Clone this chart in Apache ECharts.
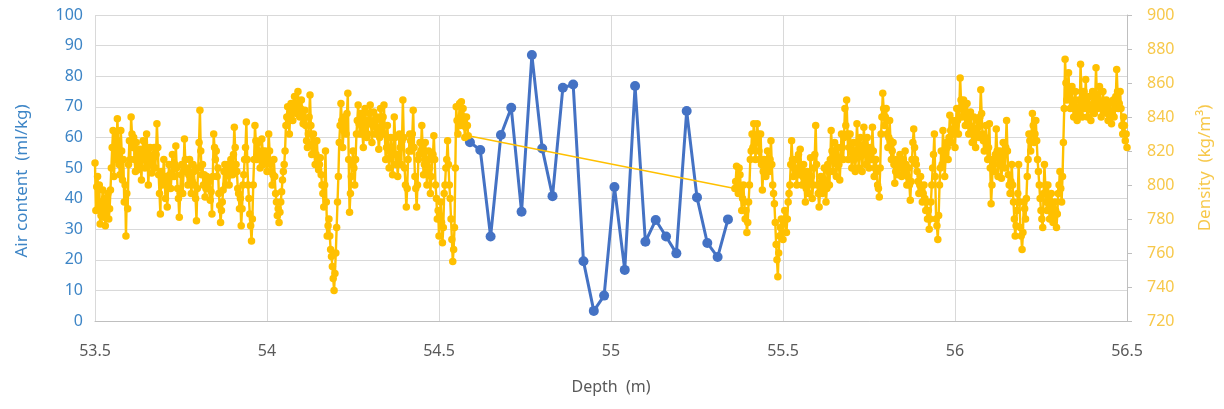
<!DOCTYPE html>
<html>
<head>
<meta charset="utf-8">
<script src="https://cdn.jsdelivr.net/npm/echarts@6/dist/echarts.min.js"></script>
<style>
  html, body { margin: 0; padding: 0; background: #fff; }
  #chart { width: 1224px; height: 409px; }
</style>
</head>
<body>
<div id="chart"></div>
<script>
// air content samples (bubble layer)
const airDepth = [54.59, 54.62, 54.65, 54.68, 54.71, 54.74, 54.77, 54.8, 54.83, 54.86, 54.89, 54.92, 54.95,
  54.98, 55.01, 55.04, 55.07, 55.1, 55.13, 55.16, 55.19, 55.22, 55.25, 55.28, 55.31, 55.34];
const airValue = [58.4, 55.9, 27.6, 60.8, 69.7, 35.7, 86.9, 56.4, 40.8, 76.2, 77.3, 19.5, 3.3,
  8.3, 43.8, 16.7, 76.8, 25.9, 33.0, 27.6, 22.1, 68.6, 40.4, 25.5, 20.9, 33.2];

// density profile above the bubble layer (5 mm samples)
const densDepthA = [
  53.5, 53.505, 53.51, 53.515, 53.52, 53.525, 53.53, 53.535, 53.54, 53.545,
  53.55, 53.555, 53.56, 53.565, 53.57, 53.575, 53.58, 53.585, 53.59, 53.595,
  53.6, 53.605, 53.61, 53.615, 53.62, 53.625, 53.63, 53.635, 53.64, 53.645,
  53.65, 53.655, 53.66, 53.665, 53.67, 53.675, 53.68, 53.685, 53.69, 53.695,
  53.7, 53.705, 53.71, 53.715, 53.72, 53.725, 53.73, 53.735, 53.74, 53.745,
  53.75, 53.755, 53.76, 53.765, 53.77, 53.775, 53.78, 53.785, 53.79, 53.795,
  53.8, 53.805, 53.81, 53.815, 53.82, 53.825, 53.83, 53.835, 53.84, 53.845,
  53.85, 53.855, 53.86, 53.865, 53.87, 53.875, 53.88, 53.885, 53.89, 53.895,
  53.9, 53.905, 53.91, 53.915, 53.92, 53.925, 53.93, 53.935, 53.94, 53.945,
  53.95, 53.955, 53.96, 53.965, 53.97, 53.975, 53.98, 53.985, 53.99, 53.995,
  54, 54.005, 54.01, 54.015, 54.02, 54.025, 54.03, 54.035, 54.04, 54.045,
  54.05, 54.055, 54.06, 54.065, 54.07, 54.075, 54.08, 54.085, 54.09, 54.095,
  54.1, 54.105, 54.11, 54.115, 54.12, 54.125, 54.13, 54.135, 54.14, 54.145,
  54.15, 54.155, 54.16, 54.165, 54.17, 54.175, 54.18, 54.185, 54.19, 54.195,
  54.2, 54.205, 54.21, 54.215, 54.22, 54.225, 54.23, 54.235, 54.24, 54.245,
  54.25, 54.255, 54.26, 54.265, 54.27, 54.275, 54.28, 54.285, 54.29, 54.295,
  54.3, 54.305, 54.31, 54.315, 54.32, 54.325, 54.33, 54.335, 54.34, 54.345,
  54.35, 54.355, 54.36, 54.365, 54.37, 54.375, 54.38, 54.385, 54.39, 54.395,
  54.4, 54.405, 54.41, 54.415, 54.42, 54.425, 54.43, 54.435, 54.44, 54.445,
  54.45, 54.455, 54.46, 54.465, 54.47, 54.475, 54.48, 54.485, 54.49, 54.495,
  54.5, 54.505, 54.51, 54.515, 54.52, 54.525, 54.53, 54.535, 54.54, 54.545,
  54.55, 54.555, 54.56, 54.565, 54.57, 54.575, 54.58, 54.585
];
const densValueA = [
  813, 799, 787, 777, 790, 781, 776, 789, 780, 797,
  822, 805, 830, 839, 812, 832, 803, 790, 770, 786,
  826, 840, 822, 815, 825, 809, 821, 803, 826, 810,
  830, 800, 822, 807, 818, 810, 836, 806, 783, 800,
  815, 792, 787, 812, 798, 818, 805, 823, 798, 781,
  806, 795, 827, 810, 800, 815, 795, 812, 800, 779,
  810, 844, 806, 800, 793, 805, 798, 791, 783, 830,
  815, 805, 795, 778, 790, 808, 800, 812, 800, 815,
  806, 834, 812, 798, 786, 776, 800, 815, 837, 800,
  783, 767, 800, 835, 815, 825, 810, 827, 812, 820,
  808, 830, 812, 800, 815, 795, 782, 778, 790, 803,
  812, 835, 846, 830, 848, 838, 852, 842, 855, 840,
  850, 836, 844, 826, 830, 853, 818, 830, 812, 826,
  809, 816, 800, 787, 820, 770, 780, 762, 752, 738,
  760, 790, 825, 848, 822, 840, 830, 854, 784, 805,
  820, 800, 830, 847, 830, 840, 822, 845, 828, 838,
  847, 825, 843, 830, 840, 821, 845, 830, 847, 815,
  835, 810, 828, 806, 840, 812, 805, 830, 812, 850,
  810, 787, 815, 830, 820, 844, 805, 787, 815, 825,
  835, 806, 825, 800, 820, 795, 815, 829, 800, 780,
  770, 790, 766, 795, 810, 826, 800, 780, 755, 775,
  846, 830, 848, 849, 845, 828, 840, 829
];
// in-between samples of the same run
const densDepthA2 = [
  53.5025, 53.5075, 53.5125, 53.5175, 53.5225, 53.5275, 53.5325, 53.5375, 53.5425, 53.5475,
  53.5525, 53.5575, 53.5625, 53.5675, 53.5725, 53.5775, 53.5825, 53.5875, 53.5925, 53.5975,
  53.6025, 53.6075, 53.6125, 53.6175, 53.6225, 53.6275, 53.6325, 53.6375, 53.6425, 53.6475,
  53.6525, 53.6575, 53.6625, 53.6675, 53.6725, 53.6775, 53.6825, 53.6875, 53.6925, 53.6975,
  53.7025, 53.7075, 53.7125, 53.7175, 53.7225, 53.7275, 53.7325, 53.7375, 53.7425, 53.7475,
  53.7525, 53.7575, 53.7625, 53.7675, 53.7725, 53.7775, 53.7825, 53.7875, 53.7925, 53.7975,
  53.8025, 53.8075, 53.8125, 53.8175, 53.8225, 53.8275, 53.8325, 53.8375, 53.8425, 53.8475,
  53.8525, 53.8575, 53.8625, 53.8675, 53.8725, 53.8775, 53.8825, 53.8875, 53.8925, 53.8975,
  53.9025, 53.9075, 53.9125, 53.9175, 53.9225, 53.9275, 53.9325, 53.9375, 53.9425, 53.9475,
  53.9525, 53.9575, 53.9625, 53.9675, 53.9725, 53.9775, 53.9825, 53.9875, 53.9925, 53.9975,
  54.0025, 54.0075, 54.0125, 54.0175, 54.0225, 54.0275, 54.0325, 54.0375, 54.0425, 54.0475,
  54.0525, 54.0575, 54.0625, 54.0675, 54.0725, 54.0775, 54.0825, 54.0875, 54.0925, 54.0975,
  54.1025, 54.1075, 54.1125, 54.1175, 54.1225, 54.1275, 54.1325, 54.1375, 54.1425, 54.1475,
  54.1525, 54.1575, 54.1625, 54.1675, 54.1725, 54.1775, 54.1825, 54.1875, 54.1925, 54.1975,
  54.2025, 54.2075, 54.2125, 54.2175, 54.2225, 54.2275, 54.2325, 54.2375, 54.2425, 54.2475,
  54.2525, 54.2575, 54.2625, 54.2675, 54.2725, 54.2775, 54.2825, 54.2875, 54.2925, 54.2975,
  54.3025, 54.3075, 54.3125, 54.3175, 54.3225, 54.3275, 54.3325, 54.3375, 54.3425, 54.3475,
  54.3525, 54.3575, 54.3625, 54.3675, 54.3725, 54.3775, 54.3825, 54.3875, 54.3925, 54.3975,
  54.4025, 54.4075, 54.4125, 54.4175, 54.4225, 54.4275, 54.4325, 54.4375, 54.4425, 54.4475,
  54.4525, 54.4575, 54.4625, 54.4675, 54.4725, 54.4775, 54.4825, 54.4875, 54.4925, 54.4975,
  54.5025, 54.5075, 54.5125, 54.5175, 54.5225, 54.5275, 54.5325, 54.5375, 54.5425, 54.5475,
  54.5525, 54.5575, 54.5625, 54.5675, 54.5725, 54.5775, 54.5825
];
const densValueA2 = [
  785, 805, 800, 782, 797, 792, 782, 795, 786, 810,
  832, 815, 818, 826, 806, 820, 815, 800, 795, 812,
  815, 830, 828, 808, 818, 812, 816, 820, 815, 822,
  818, 812, 815, 812, 822, 818, 822, 795, 808, 805,
  802, 805, 798, 806, 805, 812, 812, 810, 792, 795,
  812, 808, 815, 808, 806, 805, 802, 808, 792, 798,
  825, 820, 812, 806, 798, 800, 802, 796, 805, 822,
  820, 810, 788, 785, 797, 812, 806, 808, 806, 810,
  818, 822, 808, 795, 792, 786, 806, 822, 815, 792,
  776, 780, 815, 826, 820, 818, 815, 820, 815, 815,
  815, 820, 808, 806, 805, 790, 786, 784, 796, 808,
  820, 840, 838, 842, 844, 845, 846, 848, 846, 845,
  842, 838, 835, 822, 840, 835, 824, 820, 818, 815,
  812, 806, 795, 800, 790, 776, 770, 758, 745, 748,
  775, 805, 835, 838, 832, 836, 842, 815, 795, 812,
  810, 815, 838, 836, 842, 830, 835, 838, 830, 842,
  836, 835, 838, 834, 832, 828, 838, 840, 830, 822,
  822, 816, 820, 818, 828, 818, 815, 822, 826, 828,
  800, 798, 820, 826, 830, 822, 798, 800, 818, 820,
  822, 812, 815, 808, 810, 805, 818, 815, 792, 785,
  782, 778, 775, 800, 815, 812, 792, 768, 762, 810,
  838, 836, 835, 838, 840, 834, 835
];

// density profile below the bubble layer (5 mm samples)
const densDepthB = [
  55.36, 55.365, 55.37, 55.375, 55.38, 55.385, 55.39, 55.395, 55.4, 55.405,
  55.41, 55.415, 55.42, 55.425, 55.43, 55.435, 55.44, 55.445, 55.45, 55.455,
  55.46, 55.465, 55.47, 55.475, 55.48, 55.485, 55.49, 55.495, 55.5, 55.505,
  55.51, 55.515, 55.52, 55.525, 55.53, 55.535, 55.54, 55.545, 55.55, 55.555,
  55.56, 55.565, 55.57, 55.575, 55.58, 55.585, 55.59, 55.595, 55.6, 55.605,
  55.61, 55.615, 55.62, 55.625, 55.63, 55.635, 55.64, 55.645, 55.65, 55.655,
  55.66, 55.665, 55.67, 55.675, 55.68, 55.685, 55.69, 55.695, 55.7, 55.705,
  55.71, 55.715, 55.72, 55.725, 55.73, 55.735, 55.74, 55.745, 55.75, 55.755,
  55.76, 55.765, 55.77, 55.775, 55.78, 55.785, 55.79, 55.795, 55.8, 55.805,
  55.81, 55.815, 55.82, 55.825, 55.83, 55.835, 55.84, 55.845, 55.85, 55.855,
  55.86, 55.865, 55.87, 55.875, 55.88, 55.885, 55.89, 55.895, 55.9, 55.905,
  55.91, 55.915, 55.92, 55.925, 55.93, 55.935, 55.94, 55.945, 55.95, 55.955,
  55.96, 55.965, 55.97, 55.975, 55.98, 55.985, 55.99, 55.995, 56, 56.005,
  56.01, 56.015, 56.02, 56.025, 56.03, 56.035, 56.04, 56.045, 56.05, 56.055,
  56.06, 56.065, 56.07, 56.075, 56.08, 56.085, 56.09, 56.095, 56.1, 56.105,
  56.11, 56.115, 56.12, 56.125, 56.13, 56.135, 56.14, 56.145, 56.15, 56.155,
  56.16, 56.165, 56.17, 56.175, 56.18, 56.185, 56.19, 56.195, 56.2, 56.205,
  56.21, 56.215, 56.22, 56.225, 56.23, 56.235, 56.24, 56.245, 56.25, 56.255,
  56.26, 56.265, 56.27, 56.275, 56.28, 56.285, 56.29, 56.295, 56.3, 56.305,
  56.31, 56.315, 56.32, 56.325, 56.33, 56.335, 56.34, 56.345, 56.35, 56.355,
  56.36, 56.365, 56.37, 56.375, 56.38, 56.385, 56.39, 56.395, 56.4, 56.405,
  56.41, 56.415, 56.42, 56.425, 56.43, 56.435, 56.44, 56.445, 56.45, 56.455,
  56.46, 56.465, 56.47, 56.475, 56.48, 56.485, 56.49, 56.495, 56.5
];
const densValueB = [
  798, 811, 795, 806, 785, 800, 780, 772, 790, 815,
  830, 836, 815, 836, 820, 830, 797, 815, 805, 820,
  808, 826, 800, 789, 765, 746, 770, 780, 768, 785,
  772, 790, 800, 826, 805, 815, 800, 818, 821, 800,
  812, 790, 808, 795, 816, 792, 810, 835, 800, 787,
  805, 795, 810, 790, 812, 800, 832, 808, 825, 805,
  822, 803, 830, 815, 845, 850, 815, 830, 810, 825,
  808, 836, 810, 828, 808, 834, 812, 828, 810, 822,
  834, 805, 815, 800, 793, 830, 854, 835, 845, 822,
  838, 815, 825, 801, 815, 806, 818, 805, 815, 820,
  800, 810, 791, 815, 833, 815, 808, 795, 805, 790,
  800, 785, 780, 774, 790, 810, 830, 780, 768, 800,
  820, 832, 805, 825, 815, 841, 825, 838, 822, 845,
  830, 863, 840, 850, 835, 848, 830, 843, 825, 840,
  822, 838, 828, 856, 830, 820, 835, 815, 836, 789,
  815, 808, 833, 805, 820, 804, 825, 810, 838, 806,
  795, 812, 790, 770, 785, 812, 775, 762, 790, 780,
  805, 830, 820, 842, 825, 838, 815, 800, 785, 775,
  812, 790, 800, 780, 795, 778, 790, 775, 795, 808,
  790, 825, 874, 850, 866, 845, 858, 840, 855, 838,
  850, 871, 840, 855, 862, 840, 852, 838, 855, 842,
  869, 845, 858, 840, 855, 843, 850, 838, 848, 836,
  850, 845, 868, 845, 855, 835, 840, 826, 822
];
// in-between samples of the same run
const densDepthB2 = [
  55.3625, 55.3675, 55.3725, 55.3775, 55.3825, 55.3875, 55.3925, 55.3975, 55.4025, 55.4075,
  55.4125, 55.4175, 55.4225, 55.4275, 55.4325, 55.4375, 55.4425, 55.4475, 55.4525, 55.4575,
  55.4625, 55.4675, 55.4725, 55.4775, 55.4825, 55.4875, 55.4925, 55.4975, 55.5025, 55.5075,
  55.5125, 55.5175, 55.5225, 55.5275, 55.5325, 55.5375, 55.5425, 55.5475, 55.5525, 55.5575,
  55.5625, 55.5675, 55.5725, 55.5775, 55.5825, 55.5875, 55.5925, 55.5975, 55.6025, 55.6075,
  55.6125, 55.6175, 55.6225, 55.6275, 55.6325, 55.6375, 55.6425, 55.6475, 55.6525, 55.6575,
  55.6625, 55.6675, 55.6725, 55.6775, 55.6825, 55.6875, 55.6925, 55.6975, 55.7025, 55.7075,
  55.7125, 55.7175, 55.7225, 55.7275, 55.7325, 55.7375, 55.7425, 55.7475, 55.7525, 55.7575,
  55.7625, 55.7675, 55.7725, 55.7775, 55.7825, 55.7875, 55.7925, 55.7975, 55.8025, 55.8075,
  55.8125, 55.8175, 55.8225, 55.8275, 55.8325, 55.8375, 55.8425, 55.8475, 55.8525, 55.8575,
  55.8625, 55.8675, 55.8725, 55.8775, 55.8825, 55.8875, 55.8925, 55.8975, 55.9025, 55.9075,
  55.9125, 55.9175, 55.9225, 55.9275, 55.9325, 55.9375, 55.9425, 55.9475, 55.9525, 55.9575,
  55.9625, 55.9675, 55.9725, 55.9775, 55.9825, 55.9875, 55.9925, 55.9975, 56.0025, 56.0075,
  56.0125, 56.0175, 56.0225, 56.0275, 56.0325, 56.0375, 56.0425, 56.0475, 56.0525, 56.0575,
  56.0625, 56.0675, 56.0725, 56.0775, 56.0825, 56.0875, 56.0925, 56.0975, 56.1025, 56.1075,
  56.1125, 56.1175, 56.1225, 56.1275, 56.1325, 56.1375, 56.1425, 56.1475, 56.1525, 56.1575,
  56.1625, 56.1675, 56.1725, 56.1775, 56.1825, 56.1875, 56.1925, 56.1975, 56.2025, 56.2075,
  56.2125, 56.2175, 56.2225, 56.2275, 56.2325, 56.2375, 56.2425, 56.2475, 56.2525, 56.2575,
  56.2625, 56.2675, 56.2725, 56.2775, 56.2825, 56.2875, 56.2925, 56.2975, 56.3025, 56.3075,
  56.3125, 56.3175, 56.3225, 56.3275, 56.3325, 56.3375, 56.3425, 56.3475, 56.3525, 56.3575,
  56.3625, 56.3675, 56.3725, 56.3775, 56.3825, 56.3875, 56.3925, 56.3975, 56.4025, 56.4075,
  56.4125, 56.4175, 56.4225, 56.4275, 56.4325, 56.4375, 56.4425, 56.4475, 56.4525, 56.4575,
  56.4625, 56.4675, 56.4725, 56.4775, 56.4825, 56.4875, 56.4925, 56.4975
];
const densValueB2 = [
  802, 800, 810, 798, 792, 790, 785, 778, 800, 820,
  822, 828, 825, 830, 815, 812, 808, 810, 812, 815,
  815, 812, 795, 778, 756, 760, 775, 772, 778, 780,
  780, 795, 812, 815, 810, 808, 806, 808, 812, 805,
  800, 798, 803, 802, 805, 800, 818, 812, 795, 796,
  802, 800, 802, 798, 808, 815, 820, 815, 818, 812,
  812, 815, 822, 828, 835, 830, 822, 820, 816, 815,
  820, 825, 818, 820, 818, 824, 818, 820, 815, 815,
  820, 810, 808, 798, 810, 840, 845, 840, 830, 828,
  826, 820, 812, 808, 812, 810, 812, 810, 808, 812,
  805, 800, 802, 825, 822, 812, 802, 800, 798, 795,
  792, 790, 785, 780, 800, 818, 805, 776, 782, 810,
  812, 820, 815, 822, 828, 832, 830, 832, 835, 838,
  845, 850, 845, 842, 840, 838, 835, 832, 830, 830,
  830, 834, 840, 842, 826, 828, 825, 822, 810, 800,
  812, 818, 820, 812, 814, 812, 818, 822, 820, 800,
  802, 800, 780, 776, 795, 790, 770, 772, 786, 792,
  815, 826, 830, 835, 830, 826, 808, 792, 780, 795,
  800, 785, 792, 786, 788, 782, 785, 783, 800, 798,
  805, 845, 860, 856, 852, 850, 848, 845, 846, 842,
  845, 855, 848, 845, 850, 845, 846, 844, 848, 852,
  852, 850, 848, 846, 848, 845, 842, 844, 842, 842,
  840, 852, 855, 848, 845, 830, 835, 830
];

const depthTicks = { min: 53.5, max: 56.5, step: 0.5 };
const airTicks = { min: 0, max: 100, step: 10 };
const densTicks = { min: 720, max: 900, step: 20 };

const fontFamily = "Noto Sans";
const gridColor = "#d9d9d9";
const blue = "#4472c4";
const gold = "#ffc000";

const chart = echarts.init(document.getElementById("chart"));

function pairs(depths, values) {
  return depths.map((d, i) => [d, values[i]]);
}
const byDepth = (a, b) => a[0] - b[0];
const densA = pairs(densDepthA, densValueA).concat(pairs(densDepthA2, densValueA2)).sort(byDepth);
const densB = pairs(densDepthB, densValueB).concat(pairs(densDepthB2, densValueB2)).sort(byDepth);
// the two density runs are joined by one thin straight segment across the gap
const densGap = [densA[densA.length - 1], densB[0]];
const airData = pairs(airDepth, airValue);

function densitySeries(data) {
  return {
    name: "Density",
    type: "line",
    yAxisIndex: 1,
    data: data,
    symbol: "circle",
    symbolSize: 7.5,
    showAllSymbol: true,
    itemStyle: { color: gold },
    lineStyle: { color: gold, width: 2.4 },
    z: 3
  };
}

chart.setOption({
  animation: false,
  textStyle: { fontFamily: fontFamily },
  grid: { left: 95, right: 97, top: 15, bottom: 88 },
  xAxis: {
    type: "value",
    min: depthTicks.min,
    max: depthTicks.max,
    interval: depthTicks.step,
    name: "Depth  (m)",
    nameLocation: "middle",
    nameGap: 58,
    nameTextStyle: { color: "#595959", fontSize: 16 },
    axisLine: { show: true, lineStyle: { color: "#bfbfbf" } },
    axisTick: { show: false },
    axisLabel: { color: "#595959", fontSize: 16, margin: 22 },
    splitLine: { show: true, lineStyle: { color: gridColor } }
  },
  yAxis: [
    {
      type: "value",
      position: "left",
      min: airTicks.min,
      max: airTicks.max,
      interval: airTicks.step,
      name: "Air content  (ml/kg)",
      nameLocation: "middle",
      nameGap: 64,
      nameTextStyle: { color: "#3d85c6", fontSize: 17, padding: [0, 26, 0, 0] },
      axisLine: { show: false },
      axisTick: { show: false },
      axisLabel: { color: "#3d85c6", fontSize: 16, margin: 12 },
      splitLine: { show: true, lineStyle: { color: gridColor } }
    },
    {
      type: "value",
      position: "right",
      min: densTicks.min,
      max: densTicks.max,
      interval: densTicks.step,
      name: "Density  (kg/m³)",
      nameLocation: "middle",
      nameGap: 70,
      nameTextStyle: { color: "#f7c84a", fontSize: 17 },
      axisLine: { show: true, lineStyle: { color: "#bfbfbf" } },
      axisTick: { show: true, inside: false, length: 5, lineStyle: { color: "#bfbfbf" } },
      axisLabel: { color: "#f7c84a", fontSize: 16, margin: 20 },
      splitLine: { show: false }
    }
  ],
  series: [
    {
      name: "Air content",
      type: "line",
      yAxisIndex: 0,
      data: airData,
      symbol: "circle",
      symbolSize: 10,
      itemStyle: { color: blue },
      lineStyle: { color: blue, width: 3 },
      z: 2
    },
    densitySeries(densA),
    densitySeries(densB),
    {
      name: "Density",
      type: "line",
      yAxisIndex: 1,
      data: densGap,
      symbol: "none",
      lineStyle: { color: gold, width: 1.5 },
      z: 3
    }
  ]
});
</script>
</body>
</html>
